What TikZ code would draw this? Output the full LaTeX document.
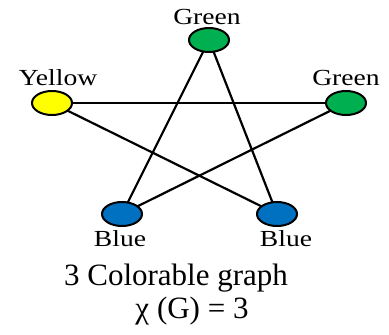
\documentclass[tikz,border=0pt]{standalone}
\usepackage{fontspec}
\setmainfont{Liberation Serif}
\usepackage{xcolor}
\usetikzlibrary{positioning,shapes.geometric}
\definecolor{vgreen}{HTML}{00B050}
\definecolor{vyellow}{HTML}{FFFF00}
\definecolor{vblue}{HTML}{0070C0}
\newcommand{\wide}[1]{\scalebox{1.2}[1]{#1}}

\begin{document}
\begin{tikzpicture}[x=1bp,y=-1bp,
  vert/.style={draw,ellipse,line width=2bp,minimum width=40bp,minimum height=24bp,inner sep=0pt,outer sep=0pt},
  lbl/.style={inner sep=0pt,font=\fontsize{23bp}{23bp}\selectfont},
  edge/.style={line width=2.2bp}]
  \useasboundingbox (0,0) rectangle (389,335);
  \node[vert,fill=vgreen] (gt) at (209,40) {};
  \node[vert,fill=vyellow] (y) at (52,103) {};
  \node[vert,fill=vgreen] (gr) at (346,103) {};
  \node[vert,fill=vblue] (bl) at (122,214) {};
  \node[vert,fill=vblue] (br) at (277,214) {};
  \node[lbl,above=3bp of gt,xshift=-2bp] (gtl) {\wide{Green}};
  \node[lbl,above=5bp of y,xshift=6bp] (yl) {\wide{Yellow}};
  \node[lbl,above=5bp of gr] (grl) {\wide{Green}};
  \node[lbl,below=4bp of bl,xshift=-2bp] (bll) {\wide{Blue}};
  \node[lbl,below=4bp of br,xshift=9bp] (brl) {\wide{Blue}};
  \draw[edge] (gt) -- (bl); \draw[edge] (gt) -- (br);
  \draw[edge] (y) -- (gr); \draw[edge] (y) -- (br);
  \draw[edge] (gr) -- (bl);
  \node[anchor=base,inner sep=0pt,font=\fontsize{31bp}{31bp}\selectfont] (cap) at (176,285) {3 Colorable graph};
  \node[anchor=base,inner sep=0pt,font=\fontsize{31bp}{31bp}\selectfont] (chi) at (192,318) {χ (G) = 3};
\end{tikzpicture}
\end{document}
